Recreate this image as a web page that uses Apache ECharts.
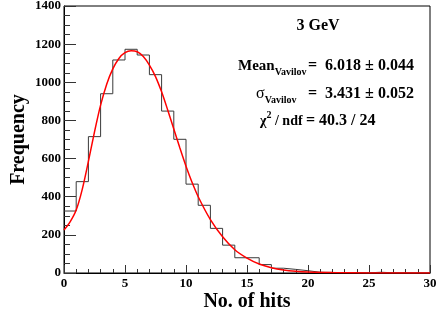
<!DOCTYPE html>
<html>
<head>
<meta charset="utf-8">
<script src="https://cdn.jsdelivr.net/npm/echarts@6/dist/echarts.min.js"></script>
<style>
html,body{margin:0;padding:0;background:#fff;}
#chart{width:441px;height:315px;}
</style>
</head>
<body>
<div id="chart"></div>
<script>
// Histogram bins (lower edges, width 1) and counts
var hitBins = [0,1,2,3,4,5,6,7,8,9,10,11,12,13,14,15,16,17,18,19,20,21,22,23,24,25,26,27,28,29];
var counts  = [325,479,715,940,1117,1173,1143,1040,849,701,466,355,234,146,80,80,44,25,19,12,4,3,2,2,1,4,1,1,0,0];

// Fitted (Vavilov) curve
var fitX = [0,0.5,1,1.5,2,2.5,3,3.5,4,4.5,5,5.5,6,6.5,7,7.5,8,8.5,9,9.5,10,10.5,11,12,13,14,15,16,17,18,19,20,22,25,30];
var fitY = [225,268,330,440,585,740,880,990,1070,1125,1155,1165,1160,1135,1090,1030,950,855,755,655,560,475,400,280,190,122,78,47,28,16,9,5,2,0.5,0];

var xTicks = [0,5,10,15,20,25,30];
var yTicks = [0,200,400,600,800,1000,1200,1400];

var FONT = '"Liberation Serif", "DejaVu Serif", serif';

var histData = hitBins.map(function(b,i){ return [b, counts[i]]; });
histData.push([hitBins[hitBins.length-1] + 1, counts[counts.length-1]]);
var fitData = fitX.map(function(x,i){ return [x, fitY[i]]; });

var chart = echarts.init(document.getElementById('chart'), null, {renderer:'canvas'});
chart.setOption({
  animation: false,
  backgroundColor: '#fff',
  grid: {left:64, right:11, top:6, bottom:42, outerBoundsMode:'none', containLabel:false,
         show:true, borderColor:'#000', borderWidth:1, backgroundColor:'transparent'},
  xAxis: {
    type:'value', min:xTicks[0], max:xTicks[xTicks.length-1], interval:5,
    name:'No. of hits', nameLocation:'middle', nameGap:19, nameMoveOverlap:false,
    nameTextStyle:{fontFamily:FONT, fontWeight:'bold', fontSize:20, color:'#000'},
    axisLine:{show:true, lineStyle:{color:'#000', width:1}},
    axisTick:{show:true, inside:true, length:8, lineStyle:{color:'#333'}},
    minorTick:{show:true, splitNumber:5, length:4, lineStyle:{color:'#333'}},
    splitLine:{show:false}, minorSplitLine:{show:false},
    axisLabel:{fontFamily:FONT, fontWeight:'bold', fontSize:13, color:'#000', margin:4,
               formatter:function(v){ return String(v); }}
  },
  yAxis: {
    type:'value', min:yTicks[0], max:yTicks[yTicks.length-1], interval:200,
    name:'Frequency', nameLocation:'middle', nameGap:35, nameRotate:90, nameMoveOverlap:false,
    nameTextStyle:{fontFamily:FONT, fontWeight:'bold', fontSize:20, color:'#000'},
    axisLine:{show:true, lineStyle:{color:'#000', width:1}},
    axisTick:{show:true, inside:true, length:12, lineStyle:{color:'#333'}},
    minorTick:{show:true, splitNumber:4, length:6, lineStyle:{color:'#333'}},
    splitLine:{show:false}, minorSplitLine:{show:false},
    axisLabel:{fontFamily:FONT, fontWeight:'bold', fontSize:13, color:'#000', margin:3,
               formatter:function(v){ return String(v); }}
  },
  series: [
    {type:'line', data:histData, step:'end', showSymbol:false, lineStyle:{color:'#3a3a3a', width:1}, z:2},
    {type:'line', data:fitData, smooth:0.3, showSymbol:false, lineStyle:{color:'#ff0000', width:1.5}, z:3}
  ],
  graphic: [
    {type:'text', x:318, y:26, style:{text:'3 GeV', fontFamily:FONT, fontWeight:'bold', fontSize:16, fill:'#000', align:'center', verticalAlign:'middle'}},
    {type:'text', x:238, y:66, style:{
      text:'{m|Mean}{s|Vavilov}', verticalAlign:'middle', align:'left',
      rich:{
        m:{fontFamily:FONT, fontWeight:'bold', fontSize:15, lineHeight:22, verticalAlign:'middle', fill:'#000'},
        s:{fontFamily:FONT, fontWeight:'bold', fontSize:10, lineHeight:10, verticalAlign:'bottom', fill:'#000'}
      }}},
    {type:'text', x:308, y:66, style:{text:'=  6.018 ± 0.044', fontFamily:FONT, fontWeight:'bold', fontSize:16, fill:'#000', verticalAlign:'middle'}},
    {type:'text', x:256, y:94, style:{
      text:'{m|σ}{s|Vavilov}', verticalAlign:'middle', align:'left',
      rich:{
        m:{fontFamily:FONT, fontSize:16, lineHeight:22, verticalAlign:'middle', fill:'#000'},
        s:{fontFamily:FONT, fontWeight:'bold', fontSize:10, lineHeight:10, verticalAlign:'bottom', fill:'#000'}
      }}},
    {type:'text', x:308, y:94, style:{text:'=  3.431 ± 0.052', fontFamily:FONT, fontWeight:'bold', fontSize:16, fill:'#000', verticalAlign:'middle'}},
    {type:'text', x:260, y:121, style:{
      text:'{m|χ}{p|2}{m| / ndf}', verticalAlign:'middle', align:'left',
      rich:{
        m:{fontFamily:FONT, fontWeight:'bold', fontSize:14, lineHeight:22, verticalAlign:'middle', fill:'#000'},
        p:{fontFamily:FONT, fontWeight:'bold', fontSize:10, lineHeight:10, verticalAlign:'top', fill:'#000'}
      }}},
    {type:'text', x:306, y:121, style:{text:'= 40.3 / 24', fontFamily:FONT, fontWeight:'bold', fontSize:16, fill:'#000', verticalAlign:'middle'}}
  ]
});
</script>
</body>
</html>
